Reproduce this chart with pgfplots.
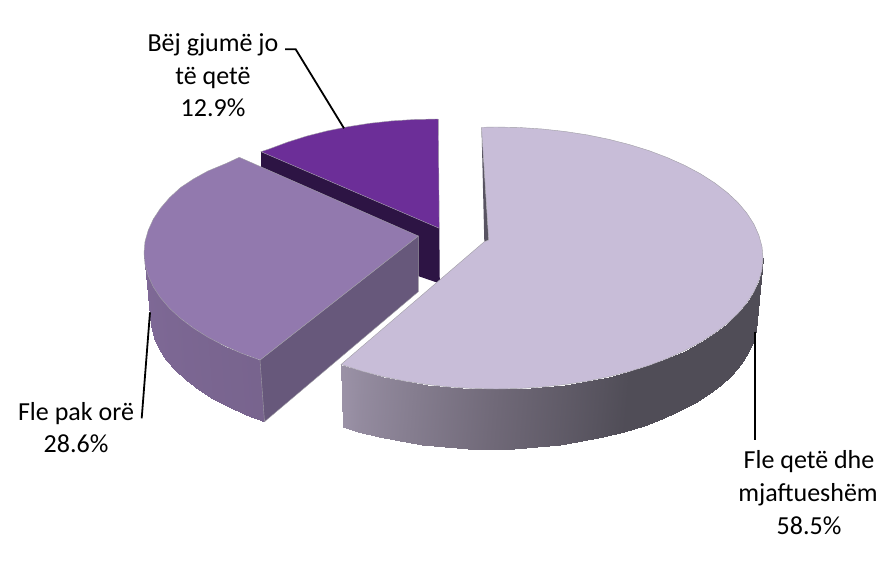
\documentclass[border=0pt]{standalone}
\usepackage{pgfplots}
\pgfplotsset{compat=1.18}
\usepackage{fontspec}
\setmainfont{Carlito}
\definecolor{restTop}{RGB}{200,189,216}
\definecolor{restInner}{RGB}{88,83,98}
\definecolor{shortTop}{RGB}{146,121,174}
\definecolor{shortInner}{RGB}{103,88,123}
\definecolor{lightTop}{RGB}{108,46,152}
\definecolor{lightInner}{RGB}{45,20,68}
\definecolor{rim}{RGB}{160,158,165}
\begin{document}
\begin{tikzpicture}
\begin{axis}[
  scale only axis, width=879pt, height=568pt,
  xmin=0, xmax=879, ymin=0, ymax=568, y dir=reverse,
  hide axis, clip=false,
  colormap={piewalls}{rgb255(0)=(80,77,87) rgb255(60)=(80,77,87) rgb255(90)=(112,105,120) rgb255(126)=(155,146,167) rgb255(200)=(120,100,142) rgb255(260)=(128,106,152) rgb255(300)=(128,106,152)},
  point meta min=0, point meta max=300,
]
% Full canvas, so that the page keeps its size
\path (axis cs:0,0) rectangle (axis cs:879,568);

% Slice 12.9%: inner wall, then top face
\addplot[fill=lightInner, draw=none] coordinates {(261,151.7)(439.3,228.3)(439.8,283.5)(418,276)(262,213)} --cycle;
\addplot[fill=lightTop, draw=rim, line width=0.4pt] coordinates {
 (261,151.7)(269.9,148.7)(287.9,142)(307,136)(327.1,130.9)(348.1,126.7)(369.7,123.3)(391.9,120.9)(414.3,119.5)(437,119)(438.3,119.3)(439.3,228.3)} --cycle;

% Slice 28.6%: outer wall, inner wall, top face
\addplot[surf, shader=interp, mesh/rows=2, point meta=explicit] table[x=x,y=y,meta=c] {
x y c
260 360 200
241.5 353.3 205
224 345.6 210
207.9 337.2 215
193.4 328.1 220
180.6 318.5 225
169.6 308.4 230
160.5 297.8 235
153.3 286.9 240
148.2 275.7 245
145 264.4 250
144 253 255
264.7 421.5 200
246.1 414.6 205
228.8 406.9 210
212.9 398.6 215
198.6 389.6 220
186 380 225
175.2 369.9 230
166.2 359.5 235
159.2 348.6 240
154.1 337.6 245
151 326.3 250
150 315 255
};
\addplot[fill=shortInner, draw=rim, line width=0.4pt] coordinates {(260,360)(418.3,236)(418.3,291.7)(264.5,421.7)} --cycle;
\addplot[fill=shortTop, draw=rim, line width=0.4pt] coordinates {
 (260,360)(241.5,353.3)(224,345.6)(207.9,337.2)(193.4,328.1)(180.6,318.5)(169.6,308.4)(160.5,297.8)(153.3,286.9)(148.2,275.7)(145,264.4)(144,253)
 (145,241.6)(148.2,230.3)(153.3,219.1)(160.5,208.2)(169.6,197.6)(180.6,187.5)(193.4,179)(207.9,171)(226,163.5)(239.3,157.3)(418.3,236)} --cycle;

% Slice 58.5%: inner sliver, outer wall, top face
\addplot[fill=restInner, draw=none] coordinates {(481.5,127.3)(488.7,240)(484.3,241.7)} --cycle;
\addplot[surf, shader=interp, mesh/rows=2, point meta=explicit] table[x=x,y=y,meta=c] {
x y c
341 364.5 125.6
362.5 371.4 120
383.2 376.7 115
404.7 381.1 110
426.9 384.5 105
449.6 387 100
472.7 388.5 95
496 389 90
519.3 388.5 85
542.4 387 80
565.1 384.5 75
587.3 381.1 70
608.8 376.7 65
629.5 371.4 60
649.2 365.3 55
667.6 358.3 50
684.8 350.6 45
700.5 342.2 40
714.7 333.1 35
727.2 323.5 30
738 313.4 25
746.9 302.8 20
753.9 291.9 15
758.9 280.7 10
762 269.4 5
763 258 0
342.7 427 125.6
358 431.7 120
378.6 436.9 115
400 441.2 110
422.2 444.6 105
444.8 447 100
467.8 448.5 95
491 449 90
514.2 448.5 85
537.2 447 80
559.8 444.6 75
582 441.2 70
603.4 436.9 65
624 431.7 60
643.6 425.7 55
662 418.8 50
679.1 411.2 45
694.8 402.9 40
708.9 394 35
721.4 384.5 30
732.1 374.5 25
741 364.1 20
747.9 353.4 15
753 342.4 10
756 331.2 5
757 320 0
};
\addplot[fill=restTop, draw=rim, line width=0.4pt] coordinates {
 (481.5,127.3)(496,127)(519.3,127.5)(542.4,129)(565.1,131.5)(587.3,134.9)(608.8,139.3)(629.5,144.6)(649.2,150.7)(667.6,157.7)(684.8,165.4)(700.5,173.8)(714.7,182.9)(727.2,192.5)(738,202.6)(746.9,213.2)(753.9,224.1)(758.9,235.3)(762,246.6)(763,258)
 (762,269.4)(758.9,280.7)(753.9,291.9)(746.9,302.8)(738,313.4)(727.2,323.5)(714.7,333.1)(700.5,342.2)(684.8,350.6)(667.6,358.3)(649.2,365.3)(629.5,371.4)(608.8,376.7)(587.3,381.1)(565.1,384.5)(542.4,387)(519.3,388.5)(496,389)
 (472.7,388.5)(449.6,387)(426.9,384.5)(404.7,381.1)(383.2,376.7)(362.5,371.4)(341,364.5)(484.3,241.7)(488.7,240)} --cycle;

% Leader lines
\addplot[black, line width=1.8pt] coordinates {(285,49.3)(295.7,49.3)(344,128.3)};
\addplot[black, line width=1.8pt] coordinates {(150,312.3)(141.7,418.3)};
\addplot[black, line width=1.8pt] coordinates {(755,331.7)(755,440)};

% Labels, one node per line
\begin{scope}[every node/.style={anchor=base, font=\fontsize{26}{26}\selectfont, inner sep=0pt, text=black}]
\node at (axis cs:213,51.7) {Bëj gjumë jo};
\node at (axis cs:213,84) {të qetë};
\node at (axis cs:213,116.5) {12.9\%};
\node at (axis cs:76,420) {Fle pak orë};
\node at (axis cs:76,452) {28.6\%};
\node at (axis cs:809,468.5) {Fle qetë dhe};
\node at (axis cs:808,501) {mjaftueshëm};
\node at (axis cs:809,534) {58.5\%};
\end{scope}
\end{axis}
\end{tikzpicture}
\end{document}
